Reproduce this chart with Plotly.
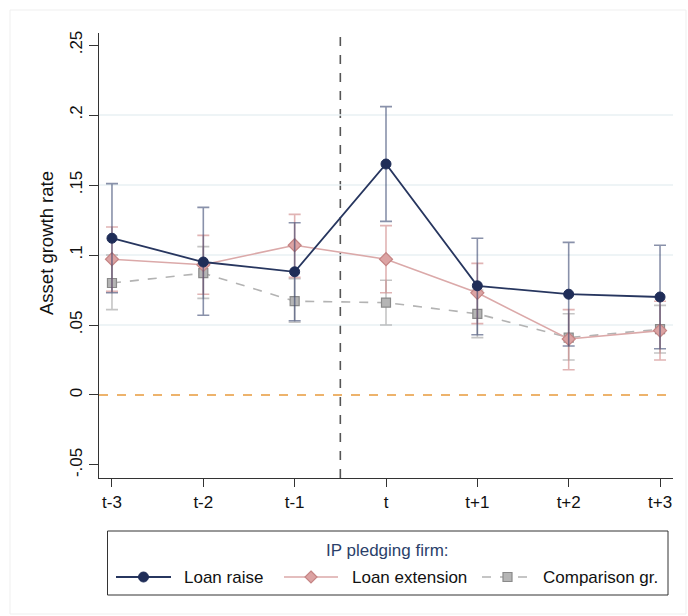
import plotly.graph_objects as go

# Event-time categories
periods = ["t-3", "t-2", "t-1", "t", "t+1", "t+2", "t+3"]

# Point estimates and 95% CI bounds for asset growth
raise_est = [0.112, 0.095, 0.088, 0.165, 0.078, 0.072, 0.070]
raise_hi = [0.151, 0.134, 0.123, 0.206, 0.112, 0.109, 0.107]
raise_lo = [0.073, 0.057, 0.053, 0.124, 0.043, 0.035, 0.033]

ext_est = [0.097, 0.093, 0.107, 0.097, 0.073, 0.040, 0.046]
ext_hi = [0.120, 0.114, 0.129, 0.121, 0.094, 0.061, 0.067]
ext_lo = [0.074, 0.072, 0.084, 0.073, 0.051, 0.018, 0.025]

comp_est = [0.080, 0.087, 0.067, 0.066, 0.058, 0.041, 0.047]
comp_hi = [0.100, 0.106, 0.083, 0.082, 0.075, 0.058, 0.064]
comp_lo = [0.061, 0.069, 0.052, 0.050, 0.041, 0.025, 0.030]

y_ticks = [0.25, 0.2, 0.15, 0.1, 0.05, 0.0, -0.05]
y_tick_text = [".25", ".2", ".15", ".1", ".05", "0", "-.05"]

y_title = "Asset growth rate"
legend_title = "IP pledging firm:"
series_names = ["Loan raise", "Loan extension", "Comparison gr."]

x = list(range(len(periods)))

# figure geometry (pixels)
W, H = 688, 616
ML, MR, MT, MB = 99, 15, 33, 138
PW, PH = W - ML - MR, H - MT - MB


def px(xp):
    return (xp - ML) / PW


def py(yp):
    return (H - MB - yp) / PH


def err(est, hi, lo, color):
    return dict(
        type="data",
        symmetric=False,
        array=[h - e for h, e in zip(hi, est)],
        arrayminus=[e - l for e, l in zip(est, lo)],
        color=color,
        thickness=1.6,
        width=6,
    )


NAVY = "#1f2d58"
NAVY_LINE = "#27365f"
PINK_LINE = "#dba9a9"
PINK_FILL = "#dca3a3"
PINK_EDGE = "#c58585"
GRAY_LINE = "#b3b3b3"
GRAY_FILL = "#b5b5b5"
GRAY_EDGE = "#8a8a8a"

fig = go.Figure()

fig.add_trace(go.Scatter(
    x=x, y=comp_est, name=series_names[2], mode="lines+markers",
    line=dict(color=GRAY_LINE, width=1.6, dash="dash"),
    marker=dict(symbol="square", size=9, color=GRAY_FILL,
                line=dict(color=GRAY_EDGE, width=1.2)),
    error_y=err(comp_est, comp_hi, comp_lo, "rgba(150,150,150,0.55)"),
))

fig.add_trace(go.Scatter(
    x=x, y=ext_est, name=series_names[1], mode="lines+markers",
    line=dict(color=PINK_LINE, width=1.6),
    marker=dict(symbol="diamond", size=10, color=PINK_FILL,
                line=dict(color=PINK_EDGE, width=1.2)),
    error_y=err(ext_est, ext_hi, ext_lo, "rgba(205,130,130,0.6)"),
))

fig.add_trace(go.Scatter(
    x=x, y=raise_est, name=series_names[0], mode="lines+markers",
    line=dict(color=NAVY_LINE, width=1.8),
    marker=dict(symbol="circle", size=10, color=NAVY,
                line=dict(color=NAVY, width=1)),
    error_y=err(raise_est, raise_hi, raise_lo, "rgba(40,55,100,0.55)"),
))

shapes = [
    # reference line at zero growth
    dict(type="line", xref="paper", x0=0, x1=1, yref="y", y0=0, y1=0,
         line=dict(color="#e89a3c", width=1.6, dash="dash"), layer="below"),
    # event boundary between t-1 and t
    dict(type="line", xref="x", x0=2.5, x1=2.5, yref="paper", y0=0, y1=1,
         line=dict(color="#555555", width=1.6, dash="dash"), layer="below"),
    # faint outer frame
    dict(type="rect", xref="paper", yref="paper", x0=px(10), x1=px(686),
         y0=py(614), y1=py(10), line=dict(color="#efefef", width=1)),
]
for g in [0.05, 0.1, 0.15, 0.2]:
    shapes.append(dict(type="line", xref="paper", x0=0, x1=1, yref="y",
                       y0=g, y1=g, line=dict(color="#e8f1f3", width=1.4),
                       layer="below"))

# legend box
box_l, box_r, box_t, box_b = 107.5, 668, 531, 595
shapes.append(dict(type="rect", xref="paper", yref="paper",
                   x0=px(box_l), x1=px(box_r), y0=py(box_b), y1=py(box_t),
                   line=dict(color="#333333", width=1), fillcolor="white"))

row_y = 577
annotations = [
    # y-axis title
    dict(text=y_title, xref="paper", yref="paper", x=px(46), y=py(243),
         xanchor="center", yanchor="middle", textangle=-90, showarrow=False,
         font=dict(size=18.5, color="#111111")),
    dict(text=legend_title, xref="paper", yref="paper",
         x=px((box_l + box_r) / 2), y=py(550), xanchor="center",
         yanchor="middle", showarrow=False,
         font=dict(size=17, color="#2b3f6a")),
]

# legend key samples: (line start, line end, text start, style)
keys = [
    (116, 171, 182, dict(color=NAVY_LINE, width=1.8)),
    (284, 338, 350, dict(color=PINK_LINE, width=1.6)),
    (482, 533, 541, dict(color=GRAY_LINE, width=1.6, dash="dash")),
]
for (l0, l1, t0, ls), name in zip(keys, series_names):
    shapes.append(dict(type="line", xref="paper", yref="paper",
                       x0=px(l0), x1=px(l1), y0=py(row_y), y1=py(row_y),
                       line=ls))
    annotations.append(dict(text=name, xref="paper", yref="paper",
                            x=px(t0), y=py(row_y), xanchor="left",
                            yanchor="middle", showarrow=False,
                            font=dict(size=17, color="#111111")))

# legend key markers
cx = (keys[0][0] + keys[0][1]) / 2
shapes.append(dict(type="circle", xref="paper", yref="paper",
                   x0=px(cx - 5), x1=px(cx + 5),
                   y0=py(row_y + 5), y1=py(row_y - 5),
                   fillcolor=NAVY, line=dict(color=NAVY, width=1)))
cx = (keys[1][0] + keys[1][1]) / 2
d = 6
shapes.append(dict(type="path", xref="paper", yref="paper",
                   path=(f"M{px(cx)},{py(row_y - d)} L{px(cx + d)},{py(row_y)} "
                         f"L{px(cx)},{py(row_y + d)} L{px(cx - d)},{py(row_y)} Z"),
                   fillcolor=PINK_FILL, line=dict(color=PINK_EDGE, width=1.2)))
cx = (keys[2][0] + keys[2][1]) / 2
s = 4.5
shapes.append(dict(type="rect", xref="paper", yref="paper",
                   x0=px(cx - s), x1=px(cx + s),
                   y0=py(row_y + s), y1=py(row_y - s),
                   fillcolor=GRAY_FILL, line=dict(color=GRAY_EDGE, width=1.2)))

fig.update_layout(
    width=W, height=H,
    margin=dict(l=ML, r=MR, t=MT, b=MB),
    paper_bgcolor="white", plot_bgcolor="white",
    font=dict(family="Liberation Sans, Arial, sans-serif", color="#111111"),
    shapes=shapes,
    annotations=annotations,
    showlegend=False,
    xaxis=dict(
        range=[-0.142, 6.142], tickmode="array", tickvals=x, ticktext=periods,
        showgrid=False, zeroline=False, showline=True, linecolor="#333333",
        linewidth=1.2, ticks="outside", ticklen=8, tickwidth=1.2,
        tickcolor="#333333", tickfont=dict(size=17),
    ),
    yaxis=dict(
        range=[-0.0593, 0.2586], tickmode="array", tickvals=y_ticks,
        ticktext=y_tick_text, tickangle=-90, showgrid=False, zeroline=False,
        showline=True, linecolor="#333333", linewidth=1.2, ticks="outside",
        ticklen=9, tickwidth=1.2, tickcolor="#333333",
        tickfont=dict(size=17),
    ),
)

fig.write_html("out.html")
